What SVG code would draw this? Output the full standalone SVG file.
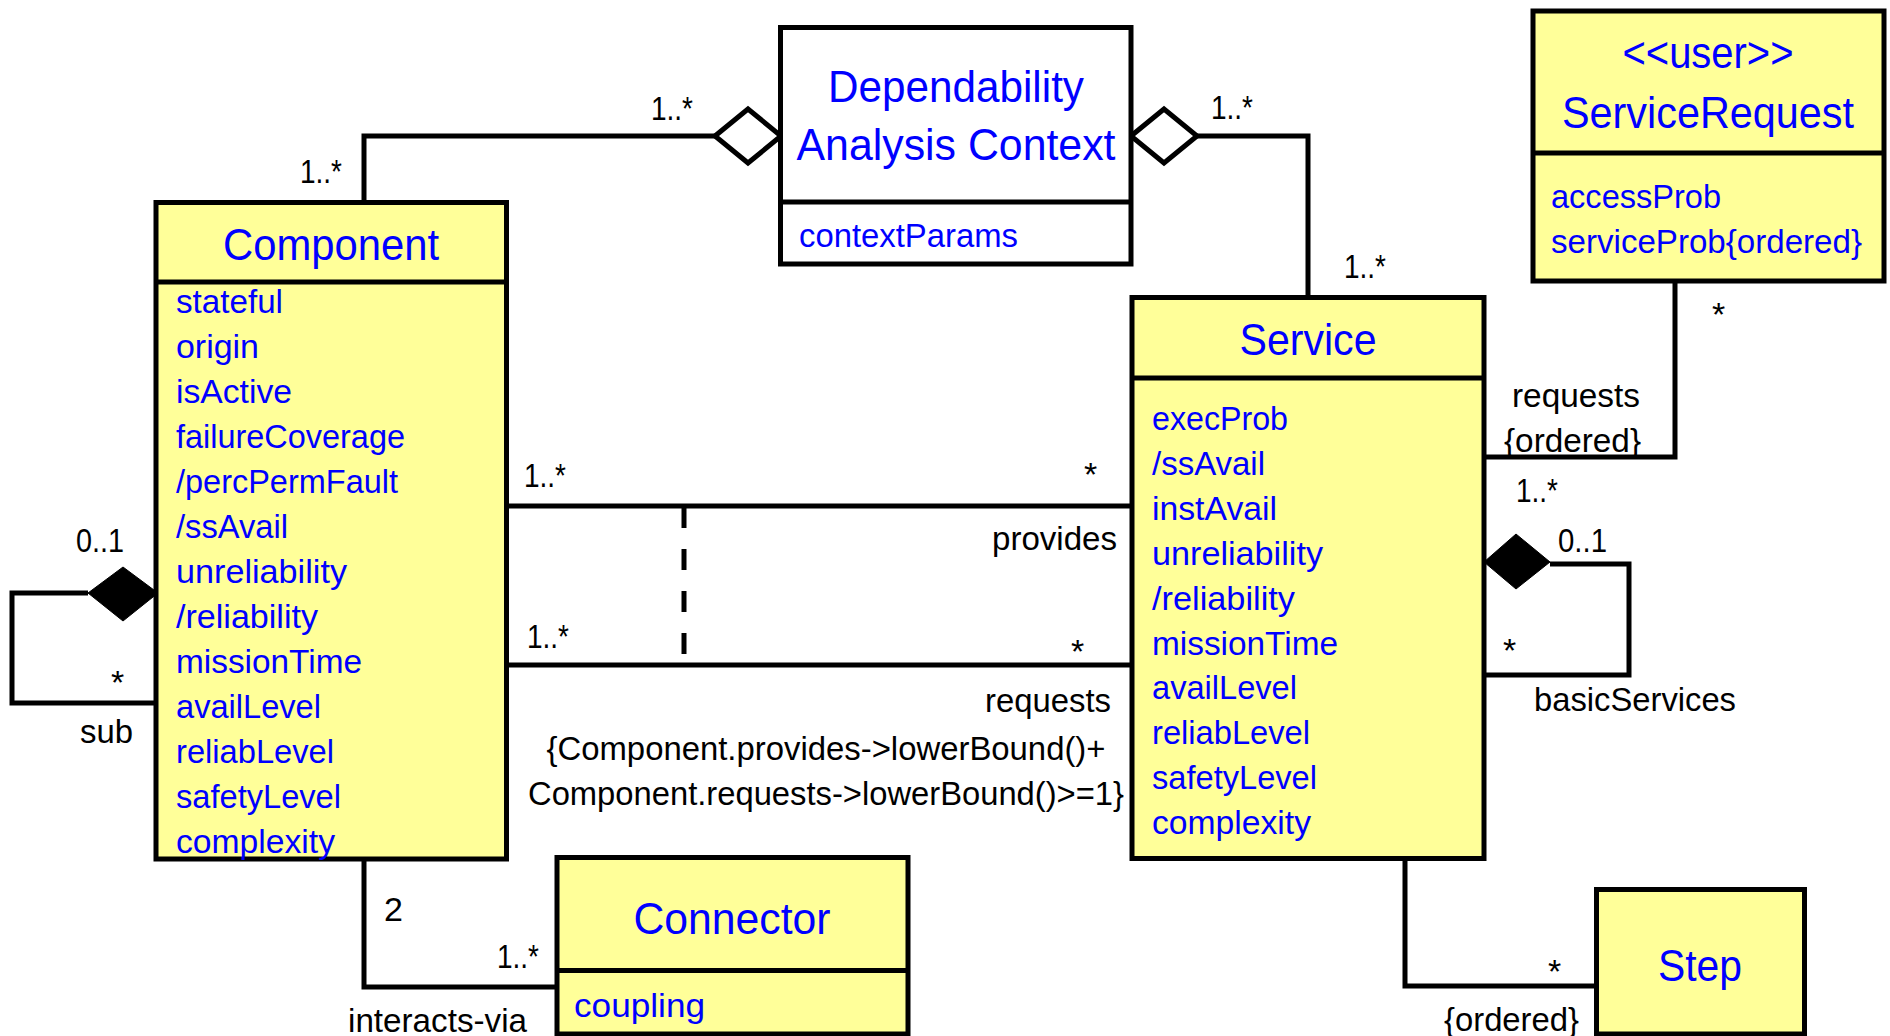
<svg xmlns="http://www.w3.org/2000/svg" width="1890" height="1036" viewBox="0 0 1890 1036">
<style>
.box{fill:#ffff99;stroke:#000;stroke-width:5}
.wbox{fill:#fff;stroke:#000;stroke-width:5}
.sep{stroke:#000;stroke-width:5}
.ln{fill:none;stroke:#000;stroke-width:5}
.dash{fill:none;stroke:#000;stroke-width:5;stroke-dasharray:21 21}
.hol{fill:#fff;stroke:#000;stroke-width:5;stroke-linejoin:miter}
.fil{fill:#000;stroke:#000;stroke-width:1}
text{font-family:"Liberation Sans",Arial,sans-serif;lengthAdjust:spacingAndGlyphs}
.t{font-size:45px;fill:#0000ff;text-anchor:middle}
.a{font-size:34px;fill:#0000ff}
.l{font-size:34px;fill:#000}
.c{font-size:34px;fill:#000;text-anchor:middle}
</style>
<rect width="1890" height="1036" fill="#fff"/>

<g id="connectors">
  <polyline class="ln" points="364,202 364,136 715,136"/>
  <polygon class="hol" points="715,136 748,109 781,136 748,163"/>
  <polyline class="ln" points="1197,136 1308,136 1308,298"/>
  <polygon class="hol" points="1131,136 1164,109 1197,136 1164,163"/>
  <line class="ln" x1="507" y1="506" x2="1132" y2="506"/>
  <line class="ln" x1="507" y1="665" x2="1132" y2="665"/>
  <line class="dash" x1="684" y1="507" x2="684" y2="657"/>
  <polyline class="ln" points="88,593 12,593 12,703 156,703"/>
  <polygon class="fil" points="88,593 123,567 158,593 123,621"/>
  <polyline class="ln" points="1675,281 1675,457 1484,457"/>
  <polyline class="ln" points="1550,564 1629,564 1629,675 1484,675"/>
  <polygon class="fil" points="1484,562 1516,534 1550,562 1516,589"/>
  <polyline class="ln" points="1405,859 1405,986 1596,986"/>
  <polyline class="ln" points="364,859 364,987 557,987"/>

  <text class="l" x="651" y="120" textLength="42" lengthAdjust="spacingAndGlyphs">1..*</text>
  <text class="l" x="300" y="183" textLength="42" lengthAdjust="spacingAndGlyphs">1..*</text>
  <text class="l" x="1211" y="119" textLength="42" lengthAdjust="spacingAndGlyphs">1..*</text>
  <text class="l" x="1344" y="278" textLength="42" lengthAdjust="spacingAndGlyphs">1..*</text>
  <text class="l" x="1712" y="326">*</text>
  <text class="l" x="1512" y="407" textLength="128" lengthAdjust="spacingAndGlyphs">requests</text>
  <text class="l" x="1504" y="452" textLength="137" lengthAdjust="spacingAndGlyphs">{ordered}</text>
  <text class="l" x="1516" y="502" textLength="42" lengthAdjust="spacingAndGlyphs">1..*</text>
  <text class="l" x="524" y="487" textLength="42" lengthAdjust="spacingAndGlyphs">1..*</text>
  <text class="l" x="1084" y="486">*</text>
  <text class="l" x="992" y="550" textLength="125" lengthAdjust="spacingAndGlyphs">provides</text>
  <text class="l" x="527" y="648" textLength="42" lengthAdjust="spacingAndGlyphs">1..*</text>
  <text class="l" x="1071" y="663">*</text>
  <text class="l" x="985" y="712" textLength="126" lengthAdjust="spacingAndGlyphs">requests</text>
  <text class="c" x="826" y="760" textLength="559" lengthAdjust="spacingAndGlyphs">{Component.provides-&gt;lowerBound()+</text>
  <text class="c" x="826" y="805" textLength="596" lengthAdjust="spacingAndGlyphs">Component.requests-&gt;lowerBound()&gt;=1}</text>
  <text class="l" x="76" y="552" textLength="48" lengthAdjust="spacingAndGlyphs">0..1</text>
  <text class="l" x="111" y="694">*</text>
  <text class="l" x="80" y="743" textLength="53" lengthAdjust="spacingAndGlyphs">sub</text>
  <text class="l" x="1558" y="552" textLength="49" lengthAdjust="spacingAndGlyphs">0..1</text>
  <text class="l" x="1503" y="662">*</text>
  <text class="l" x="1534" y="711" textLength="202" lengthAdjust="spacingAndGlyphs">basicServices</text>
  <text class="l" x="384" y="921">2</text>
  <text class="l" x="497" y="968" textLength="42" lengthAdjust="spacingAndGlyphs">1..*</text>
  <text class="l" x="348" y="1032" textLength="179" lengthAdjust="spacingAndGlyphs">interacts-via</text>
  <text class="l" x="1548" y="983">*</text>
  <text class="l" x="1444" y="1031" textLength="135" lengthAdjust="spacingAndGlyphs">{ordered}</text>
</g>

<g id="dac">
  <rect class="wbox" x="780.5" y="27.5" width="350.5" height="236.5"/>
  <line class="sep" x1="780.5" y1="202" x2="1131" y2="202"/>
  <text class="t" x="956" y="102" textLength="256" lengthAdjust="spacingAndGlyphs">Dependability</text>
  <text class="t" x="956" y="160" textLength="319" lengthAdjust="spacingAndGlyphs">Analysis Context</text>
  <text class="a" x="799" y="247" textLength="219" lengthAdjust="spacingAndGlyphs">contextParams</text>
</g>

<g id="component">
  <rect class="box" x="156" y="202.5" width="350.5" height="656.5"/>
  <line class="sep" x1="156" y1="282" x2="506.5" y2="282"/>
  <text class="t" x="331" y="260" textLength="216" lengthAdjust="spacingAndGlyphs">Component</text>
  <text class="a" x="176" y="313" textLength="107" lengthAdjust="spacingAndGlyphs">stateful</text>
  <text class="a" x="176" y="358" textLength="83" lengthAdjust="spacingAndGlyphs">origin</text>
  <text class="a" x="176" y="403" textLength="116" lengthAdjust="spacingAndGlyphs">isActive</text>
  <text class="a" x="176" y="448" textLength="229" lengthAdjust="spacingAndGlyphs">failureCoverage</text>
  <text class="a" x="176" y="493" textLength="222" lengthAdjust="spacingAndGlyphs">/percPermFault</text>
  <text class="a" x="176" y="538" textLength="112" lengthAdjust="spacingAndGlyphs">/ssAvail</text>
  <text class="a" x="176" y="583" textLength="171" lengthAdjust="spacingAndGlyphs">unreliability</text>
  <text class="a" x="176" y="628" textLength="142" lengthAdjust="spacingAndGlyphs">/reliability</text>
  <text class="a" x="176" y="673" textLength="186" lengthAdjust="spacingAndGlyphs">missionTime</text>
  <text class="a" x="176" y="718" textLength="145" lengthAdjust="spacingAndGlyphs">availLevel</text>
  <text class="a" x="176" y="763" textLength="158" lengthAdjust="spacingAndGlyphs">reliabLevel</text>
  <text class="a" x="176" y="808" textLength="165" lengthAdjust="spacingAndGlyphs">safetyLevel</text>
  <text class="a" x="176" y="853" textLength="159" lengthAdjust="spacingAndGlyphs">complexity</text>
</g>

<g id="service">
  <rect class="box" x="1132" y="297.5" width="352" height="561"/>
  <line class="sep" x1="1132" y1="378" x2="1484" y2="378"/>
  <text class="t" x="1308" y="355" textLength="137" lengthAdjust="spacingAndGlyphs">Service</text>
  <text class="a" x="1152" y="430" textLength="136" lengthAdjust="spacingAndGlyphs">execProb</text>
  <text class="a" x="1152" y="475" textLength="113" lengthAdjust="spacingAndGlyphs">/ssAvail</text>
  <text class="a" x="1152" y="520" textLength="125" lengthAdjust="spacingAndGlyphs">instAvail</text>
  <text class="a" x="1152" y="565" textLength="171" lengthAdjust="spacingAndGlyphs">unreliability</text>
  <text class="a" x="1152" y="610" textLength="143" lengthAdjust="spacingAndGlyphs">/reliability</text>
  <text class="a" x="1152" y="655" textLength="186" lengthAdjust="spacingAndGlyphs">missionTime</text>
  <text class="a" x="1152" y="699" textLength="145" lengthAdjust="spacingAndGlyphs">availLevel</text>
  <text class="a" x="1152" y="744" textLength="158" lengthAdjust="spacingAndGlyphs">reliabLevel</text>
  <text class="a" x="1152" y="789" textLength="165" lengthAdjust="spacingAndGlyphs">safetyLevel</text>
  <text class="a" x="1152" y="834" textLength="159" lengthAdjust="spacingAndGlyphs">complexity</text>
</g>

<g id="serviceRequest">
  <rect class="box" x="1533" y="11" width="351" height="270"/>
  <line class="sep" x1="1533" y1="153" x2="1884" y2="153"/>
  <text class="t" x="1708" y="68" textLength="171" lengthAdjust="spacingAndGlyphs">&lt;&lt;user&gt;&gt;</text>
  <text class="t" x="1708" y="128" textLength="292" lengthAdjust="spacingAndGlyphs">ServiceRequest</text>
  <text class="a" x="1551" y="208" textLength="170" lengthAdjust="spacingAndGlyphs">accessProb</text>
  <text class="a" x="1551" y="253" textLength="311" lengthAdjust="spacingAndGlyphs">serviceProb{ordered}</text>
</g>

<g id="connector">
  <rect class="box" x="557" y="857.5" width="351" height="176.5"/>
  <line class="sep" x1="557" y1="970.5" x2="908" y2="970.5"/>
  <text class="t" x="732" y="934" textLength="197" lengthAdjust="spacingAndGlyphs">Connector</text>
  <text class="a" x="574" y="1017" textLength="131" lengthAdjust="spacingAndGlyphs">coupling</text>
</g>

<g id="step">
  <rect class="box" x="1596.5" y="889.5" width="208" height="144.5"/>
  <text class="t" x="1700" y="981" textLength="84" lengthAdjust="spacingAndGlyphs">Step</text>
</g>
</svg>
